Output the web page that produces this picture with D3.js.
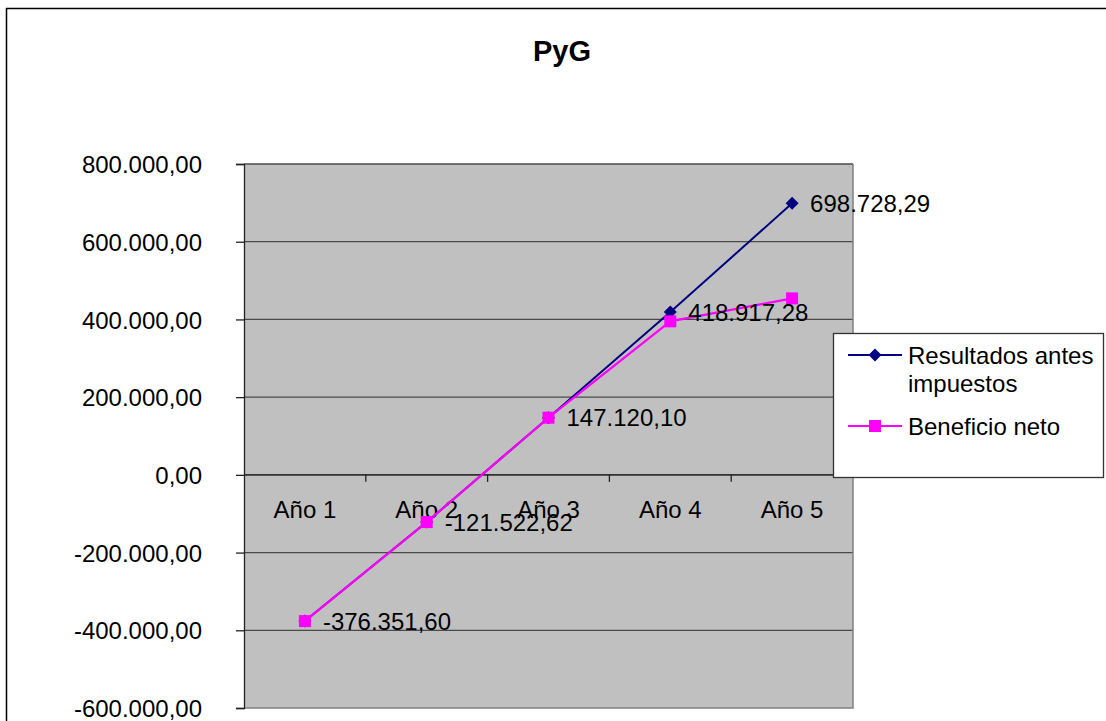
<!DOCTYPE html>
<html>
<head>
<meta charset="utf-8">
<script src="https://cdn.jsdelivr.net/npm/d3@7"></script>
<style>
  body { margin: 0; background: #fff; }
  svg { display: block; font-family: "Liberation Sans", Arial, sans-serif; }
</style>
</head>
<body>
<div id="chart"></div>
<script>
const years = ["Año 1", "Año 2", "Año 3", "Año 4", "Año 5"];
const resultados = [-376351.60, -121522.62, 147120.10, 418917.28, 698728.29];
const beneficio = [-376351.60, -121522.62, 147120.10, 395060.00, 454173.39];
const yTicks = [-600000, -400000, -200000, 0, 200000, 400000, 600000, 800000];
const seriesNames = ["Resultados antes impuestos", "Beneficio neto"];

const width = 1106, height = 721;
const margin = { top: 164, right: 253, bottom: 13, left: 244 };

const es = d3.formatLocale({ decimal: ",", thousands: ".", grouping: [3], currency: ["", " €"], minus: "-" });
const fmt = es.format(",.2f");

const svg = d3.select("#chart").append("svg")
  .attr("width", width)
  .attr("height", height);

// outer chart frame
svg.append("rect")
  .attr("x", 6.5).attr("y", 8.5)
  .attr("width", 1300).attr("height", 900)
  .attr("fill", "#fff")
  .attr("stroke", "#000")
  .attr("stroke-width", 1.5);

svg.append("text")
  .attr("x", 562).attr("y", 61)
  .attr("text-anchor", "middle")
  .style("font-size", "29px")
  .style("font-weight", "bold")
  .text("PyG");

const x = d3.scaleBand()
  .domain(years)
  .range([margin.left, width - margin.right])
  .padding(0);

const y = d3.scaleLinear()
  .domain([-600000, 800000])
  .range([height - margin.bottom, margin.top]);

// plot area
svg.append("rect")
  .attr("x", margin.left).attr("y", margin.top)
  .attr("width", x.range()[1] - margin.left)
  .attr("height", y(-600000) - margin.top)
  .attr("fill", "#c0c0c0");

// gridlines
svg.append("g")
  .selectAll("line")
  .data(yTicks.filter(d => d !== -600000))
  .join("line")
  .attr("x1", margin.left).attr("x2", x.range()[1])
  .attr("y1", d => y(d)).attr("y2", d => y(d))
  .attr("stroke", "#4a4a4a")
  .attr("stroke-width", 1.3);

// right & bottom border
svg.append("path")
  .attr("d", `M${x.range()[1]},${margin.top}V${y(-600000)}H${margin.left}`)
  .attr("fill", "none")
  .attr("stroke", "#808080")
  .attr("stroke-width", 1.5);

// y axis
const yAxis = svg.append("g")
  .attr("transform", `translate(${margin.left},0)`)
  .call(d3.axisLeft(y).tickValues(yTicks).tickSize(8).tickPadding(34).tickFormat(fmt));
yAxis.select(".domain").attr("stroke", "#222").attr("stroke-width", 1.3);
yAxis.selectAll(".tick line").attr("stroke", "#222").attr("stroke-width", 1.3);
yAxis.selectAll("text")
  .style("font-size", "24px")
  .attr("fill", "#000")
  .attr("dy", "0.36em");

// x axis on the zero line, ticks between categories
const xg = svg.append("g");
xg.append("line")
  .attr("x1", margin.left).attr("x2", x.range()[1])
  .attr("y1", y(0)).attr("y2", y(0))
  .attr("stroke", "#222").attr("stroke-width", 1.3);
xg.selectAll(".sep")
  .data(years.slice(1))
  .join("line")
  .attr("class", "sep")
  .attr("x1", d => x(d)).attr("x2", d => x(d))
  .attr("y1", y(0)).attr("y2", y(0) + 7)
  .attr("stroke", "#222").attr("stroke-width", 1.3);
xg.selectAll(".cat")
  .data(years)
  .join("text")
  .attr("class", "cat")
  .attr("x", d => x(d) + x.bandwidth() / 2)
  .attr("y", y(0) + 43)
  .attr("text-anchor", "middle")
  .style("font-size", "24px")
  .text(d => d);

const cx = d => x(d) + x.bandwidth() / 2;
const line = d3.line()
  .x((d, i) => cx(years[i]))
  .y(d => y(d));

// Resultados antes impuestos
svg.append("path")
  .datum(resultados)
  .attr("d", line)
  .attr("fill", "none")
  .attr("stroke", "#000080")
  .attr("stroke-width", 2);

svg.append("g")
  .selectAll("path")
  .data(resultados)
  .join("path")
  .attr("transform", (d, i) => `translate(${cx(years[i])},${y(d)})`)
  .attr("d", "M0,-6.5L6.5,0L0,6.5L-6.5,0Z")
  .attr("fill", "#000080");

// Beneficio neto
svg.append("path")
  .datum(beneficio)
  .attr("d", line)
  .attr("fill", "none")
  .attr("stroke", "#ff00ff")
  .attr("stroke-width", 2.2);

svg.append("g")
  .selectAll("rect")
  .data(beneficio)
  .join("rect")
  .attr("x", (d, i) => cx(years[i]) - 6)
  .attr("y", d => y(d) - 6)
  .attr("width", 12).attr("height", 12)
  .attr("fill", "#ff00ff");

// data labels (first series)
svg.append("g")
  .selectAll("text")
  .data(resultados)
  .join("text")
  .attr("x", (d, i) => cx(years[i]) + 18)
  .attr("y", d => y(d))
  .attr("dy", "0.36em")
  .style("font-size", "24px")
  .text(d => fmt(d));

// legend
const legend = svg.append("g").attr("transform", "translate(833,333)");
legend.append("rect")
  .attr("x", 0.5).attr("y", 0.5)
  .attr("width", 270).attr("height", 144)
  .attr("fill", "#fff")
  .attr("stroke", "#333")
  .attr("stroke-width", 1.3);

legend.append("line")
  .attr("x1", 15).attr("x2", 69).attr("y1", 22).attr("y2", 22)
  .attr("stroke", "#000080").attr("stroke-width", 2);
legend.append("path")
  .attr("transform", "translate(42,22)")
  .attr("d", "M0,-6.5L6.5,0L0,6.5L-6.5,0Z")
  .attr("fill", "#000080");
legend.append("text")
  .attr("x", 75).attr("y", 22).attr("dy", "0.36em")
  .style("font-size", "24px")
  .text("Resultados antes");
legend.append("text")
  .attr("x", 75).attr("y", 50).attr("dy", "0.36em")
  .style("font-size", "24px")
  .text("impuestos");

legend.append("line")
  .attr("x1", 15).attr("x2", 69).attr("y1", 93).attr("y2", 93)
  .attr("stroke", "#ff00ff").attr("stroke-width", 2.2);
legend.append("rect")
  .attr("x", 36).attr("y", 87).attr("width", 12).attr("height", 12)
  .attr("fill", "#ff00ff");
legend.append("text")
  .attr("x", 75).attr("y", 93).attr("dy", "0.36em")
  .style("font-size", "24px")
  .text(seriesNames[1]);
</script>
</body>
</html>
